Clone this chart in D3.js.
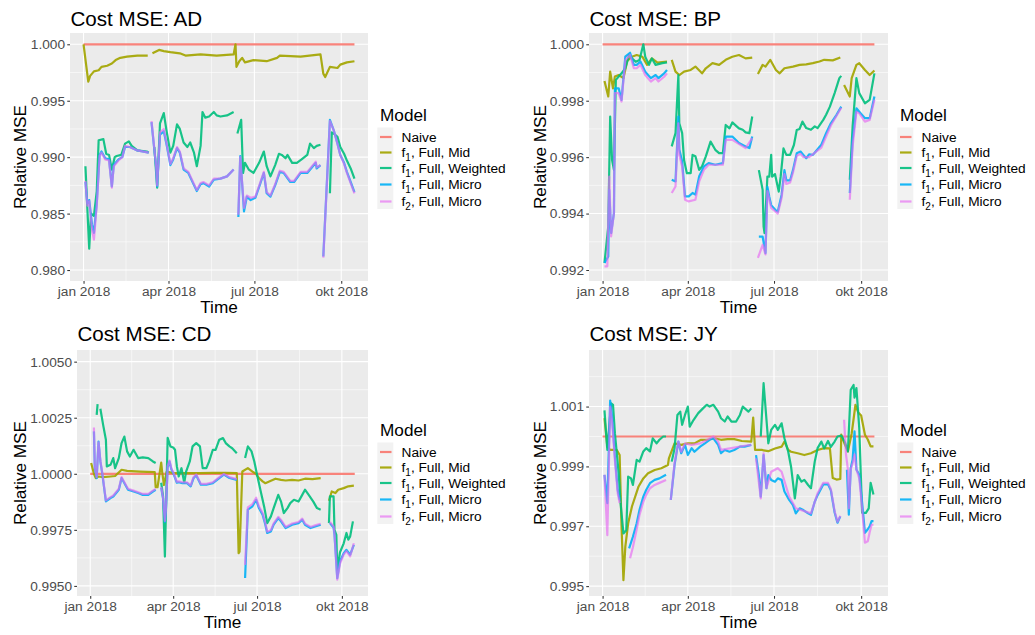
<!DOCTYPE html>
<html>
<head>
<meta charset="utf-8">
<script src="https://cdn.jsdelivr.net/npm/d3@7"></script>
<style>
  html, body { margin: 0; padding: 0; background: #ffffff; }
  svg text { font-family: "Liberation Sans", Arial, Helvetica, sans-serif; }
</style>
</head>
<body>
<svg id="chart" width="1035" height="635"></svg>
<script>
// ---- series and labels -------------------------------------------------
const modelNames = ["Naive", "f1, Full, Mid", "f1, Full, Weighted", "f1, Full, Micro", "f2, Full, Micro"];
const modelColors = ["#F8766D", "#A3A500", "#00BF7D", "#00B0F6", "#E76BF3"];
const modelAlpha = [0.9, 0.92, 0.9, 0.9, 0.66];
const legendTitle = "Model";
const xTitle = "Time";
const yTitle = "Relative MSE";

// x ticks as day offsets from 1 Jan 2018
const xTickDays = [0, 90, 181, 273];
const xTickLabels = ["jan 2018", "apr 2018", "jul 2018", "okt 2018"];
const xMinorDays = [45, 135.5, 227];
const dataFirstDay = 0, dataLastDay = 287;

// each series: [day offset from 1 Jan 2018, relative MSE]; null breaks the line
const naive = [[0, 1.0], [287, 1.0]];

// ---- AD ----
const adTicks = [0.980, 0.985, 0.990, 0.995, 1.000];
const adMinor = [0.9825, 0.9875, 0.9925, 0.9975];
const adMid = [[0,1.0000],[5,0.9967],[7,0.9972],[11,0.9976],[16,0.9977],[19,0.9980],[25,0.9981],[30,0.9983],[34,0.9986],[39,0.9988],[46,0.9989],[57,0.9990],[68,0.9990],[70,null],[73,0.9992],[80,0.9995],[85,0.9994],[92,0.9993],[102,0.9992],[108,0.9990],[124,0.9991],[141,0.9990],[159,0.9991],[161,1.0000],[162,0.9980],[165,0.9985],[168,0.9988],[171,0.9984],[180,0.9986],[194,0.9985],[205,0.9988],[208,0.9990],[230,0.9989],[251,0.9991],[254,0.9974],[256,0.9971],[261,0.9980],[269,0.9979],[272,0.9982],[279,0.9984],[287,0.9985]];
const adWeighted = [[2,0.9892],[4,0.9855],[6,0.9819],[8,0.9850],[11,0.9848],[14,0.9870],[16,0.9915],[21,0.9916],[24,0.9903],[27,0.9902],[30,0.9889],[33,0.9900],[35,0.9901],[40,0.9902],[44,0.9912],[48,0.9914],[51,0.9910],[57,0.9906],[67,0.9905],[69,0.9904],[71,null],[75,0.9909],[78,0.9873],[81,0.9930],[85,0.9939],[88,0.9923],[92,0.9904],[95,0.9910],[99,0.9929],[102,0.9925],[106,0.9913],[110,0.9909],[113,0.9913],[117,0.9904],[120,0.9892],[124,0.9910],[126,0.9940],[129,0.9935],[133,0.9936],[138,0.9940],[141,0.9937],[145,0.9936],[152,0.9937],[159,0.9940],[161,null],[163,0.9921],[167,0.9933],[169,0.9886],[171,0.9895],[175,0.9889],[180,0.9886],[186,0.9895],[191,0.9905],[194,0.9892],[198,0.9883],[203,0.9893],[207,0.9903],[210,0.9902],[214,0.9899],[216,0.9902],[221,0.9895],[226,0.9895],[231,0.9898],[237,0.9902],[240,0.9912],[244,0.9908],[247,0.9910],[251,0.9911],[253,null],[261,0.9868],[263,0.9922],[265,0.9921],[269,0.9918],[272,0.9909],[276,0.9903],[279,0.9897],[283,0.9890],[287,0.9881]];
const adMicro1 = [[2,0.9878],[4,0.9859],[6,0.9862],[9,0.9840],[11,0.9833],[14,0.9859],[17,0.9902],[19,0.9905],[23,0.9899],[27,0.9898],[30,0.9874],[32,0.9893],[37,0.9898],[41,0.9900],[44,0.9909],[49,0.9909],[57,0.9906],[69,0.9904],[71,null],[72,0.9931],[77,0.9890],[78,0.9874],[81,0.9920],[85,0.9923],[88,0.9911],[92,0.9893],[95,0.9898],[99,0.9908],[102,0.9904],[106,0.9889],[111,0.9886],[116,0.9877],[120,0.9870],[124,0.9876],[127,0.9877],[133,0.9874],[138,0.9880],[145,0.9881],[152,0.9883],[159,0.9889],[161,null],[164,0.9847],[166,0.9901],[170,0.9852],[173,0.9865],[177,0.9862],[182,0.9864],[187,0.9876],[191,0.9886],[194,0.9868],[198,0.9865],[203,0.9875],[208,0.9887],[212,0.9886],[219,0.9878],[223,0.9878],[230,0.9886],[237,0.9886],[246,0.9895],[247,0.9890],[251,0.9893],[253,null],[254,0.9812],[261,0.9933],[265,0.9924],[269,0.9912],[272,0.9902],[276,0.9895],[279,0.9887],[283,0.9878],[287,0.9869]];
const adMicro2 = [[2,0.9879],[4,0.9857],[6,0.9861],[9,0.9836],[11,0.9827],[14,0.9857],[17,0.9901],[19,0.9904],[23,0.9898],[27,0.9897],[30,0.9873],[32,0.9892],[37,0.9897],[41,0.9900],[44,0.9910],[49,0.9909],[57,0.9906],[69,0.9904],[71,null],[72,0.9932],[77,0.9891],[78,0.9875],[81,0.9922],[85,0.9925],[88,0.9912],[92,0.9894],[95,0.9899],[99,0.9909],[102,0.9905],[106,0.9890],[111,0.9887],[116,0.9878],[120,0.9871],[124,0.9877],[127,0.9878],[133,0.9875],[138,0.9881],[145,0.9881],[152,0.9883],[159,0.9889],[161,null],[164,0.9849],[166,0.9900],[170,0.9855],[173,0.9866],[177,0.9864],[182,0.9865],[187,0.9877],[191,0.9887],[194,0.9869],[198,0.9866],[203,0.9876],[208,0.9888],[212,0.9887],[219,0.9879],[223,0.9879],[230,0.9887],[237,0.9887],[246,0.9896],[247,0.9891],[251,0.9893],[253,null],[254,0.9811],[261,0.9932],[265,0.9924],[269,0.9912],[272,0.9902],[276,0.9894],[279,0.9886],[283,0.9877],[287,0.9868]];

// ---- BP ----
const bpTicks = [0.992, 0.994, 0.996, 0.998, 1.000];
const bpMinor = [0.993, 0.995, 0.997, 0.999];
const bpMid = [[2,0.99870],[6,0.99815],[8,0.99903],[11,0.99844],[13,0.99886],[17,0.99891],[22,0.99880],[26,0.99941],[31,0.99956],[36,0.99962],[42,0.99956],[47,0.99927],[52,0.99950],[58,0.99935],[68,0.99939],[70,null],[73,0.99945],[77,0.99903],[81,0.99891],[86,0.99903],[93,0.99909],[98,0.99921],[105,0.99897],[109,0.99915],[116,0.99933],[123,0.99927],[130,0.99945],[137,0.99956],[144,0.99962],[151,0.99950],[158,0.99953],[161,null],[164,0.99895],[169,0.99927],[172,0.99921],[177,0.99945],[183,0.99909],[187,0.99897],[192,0.99915],[201,0.99921],[208,0.99927],[215,0.99929],[222,0.99933],[229,0.99939],[234,0.99945],[243,0.99943],[251,0.99953],[253,null],[255,0.99856],[261,0.99815],[263,0.99880],[268,0.99927],[271,0.99933],[277,0.99909],[282,0.99891],[287,0.99907]];
const bpWeighted = [[2,0.99225],[6,0.99355],[8,0.99744],[10,0.99590],[12,0.99555],[14,0.99874],[17,0.99886],[20,0.99897],[24,0.99915],[28,0.99962],[31,0.99950],[35,0.99938],[39,0.99944],[43,1.00000],[45,0.99956],[49,0.99927],[52,0.99950],[56,0.99927],[63,0.99933],[68,0.99936],[70,null],[73,0.99638],[77,0.99685],[80,0.99891],[81,0.99720],[84,0.99685],[86,0.99590],[89,0.99543],[93,0.99543],[95,0.99608],[98,0.99603],[102,0.99555],[105,0.99567],[109,0.99603],[114,0.99655],[119,0.99626],[123,0.99614],[127,0.99614],[130,0.99714],[134,0.99702],[137,0.99723],[141,0.99711],[144,0.99702],[148,0.99697],[151,0.99688],[155,0.99685],[158,0.99744],[161,null],[165,0.99554],[169,0.99484],[170,0.99354],[171,0.99331],[174,0.99531],[176,0.99531],[178,0.99608],[179,0.99531],[182,0.99540],[186,0.99478],[188,0.99530],[191,0.99631],[194,0.99608],[198,0.99608],[202,0.99643],[205,0.99696],[208,0.99700],[211,0.99726],[215,0.99703],[220,0.99697],[224,0.99709],[227,0.99703],[233,0.99732],[236,0.99750],[240,0.99779],[245,0.99827],[250,0.99880],[252,0.99888],[253,null],[261,0.99520],[264,0.99709],[268,0.99880],[271,0.99827],[277,0.99791],[282,0.99803],[287,0.99897]];
const bpMicro1 = [[2,0.99225],[6,0.99248],[7,0.99484],[9,0.99331],[12,0.99402],[13,0.99844],[17,0.99844],[20,0.99803],[24,0.99956],[29,0.99970],[33,0.99927],[36,0.99927],[40,0.99939],[45,0.99903],[51,0.99880],[56,0.99891],[59,0.99880],[65,0.99897],[68,0.99909],[70,null],[73,0.99520],[77,0.99514],[80,0.99744],[81,0.99627],[84,0.99585],[87,0.99461],[91,0.99461],[95,0.99473],[98,0.99467],[102,0.99532],[107,0.99567],[112,0.99579],[119,0.99573],[127,0.99579],[130,0.99673],[137,0.99673],[144,0.99650],[151,0.99638],[155,0.99632],[158,0.99673],[161,null],[165,0.99318],[169,0.99318],[172,0.99260],[174,0.99495],[176,0.99460],[178,0.99430],[183,0.99411],[185,0.99407],[189,0.99466],[192,0.99554],[194,0.99518],[198,0.99518],[201,0.99554],[205,0.99614],[209,0.99620],[212,0.99608],[215,0.99596],[218,0.99610],[222,0.99608],[225,0.99620],[231,0.99644],[236,0.99685],[241,0.99720],[247,0.99750],[252,0.99779],[253,null],[261,0.99473],[264,0.99661],[268,0.99773],[271,0.99761],[277,0.99738],[282,0.99738],[287,0.99815]];
const bpMicro2 = [[2,0.99213],[5,0.99213],[7,0.99531],[9,0.99319],[12,0.99402],[13,0.99827],[17,0.99827],[20,0.99797],[24,0.99944],[29,0.99962],[33,0.99915],[36,0.99915],[40,0.99927],[45,0.99891],[51,0.99868],[56,0.99880],[59,0.99868],[65,0.99885],[68,0.99897],[70,null],[73,0.99473],[77,0.99496],[80,0.99720],[81,0.99608],[84,0.99567],[87,0.99449],[91,0.99443],[98,0.99449],[102,0.99514],[107,0.99555],[112,0.99573],[127,0.99573],[130,0.99661],[137,0.99661],[151,0.99632],[158,0.99667],[161,null],[164,0.99243],[169,0.99289],[172,0.99255],[174,0.99480],[178,0.99420],[185,0.99400],[189,0.99455],[192,0.99540],[194,0.99505],[198,0.99510],[201,0.99545],[205,0.99605],[209,0.99612],[212,0.99600],[218,0.99600],[231,0.99634],[241,0.99712],[252,0.99775],[253,null],[261,0.99449],[264,0.99638],[268,0.99761],[271,0.99755],[277,0.99726],[282,0.99732],[287,0.99803]];

// ---- CD ----
const cdTicks = [0.9950, 0.9975, 1.0000, 1.0025, 1.0050];
const cdMinor = [0.99625, 0.99875, 1.00125, 1.00375];
const cdMid = [[1,1.00048],[4,1.00000],[6,0.99981],[9,0.99988],[14,0.99985],[22,0.99988],[27,0.99990],[34,1.00018],[40,1.00013],[54,1.00010],[70,1.00007],[71,0.99940],[73,0.99940],[77,1.00050],[78,1.00010],[80,0.99950],[83,1.00010],[90,1.00003],[104,1.00003],[119,1.00003],[133,1.00004],[147,1.00004],[159,1.00003],[161,0.99646],[162,0.99653],[165,1.00010],[171,1.00025],[176,1.00010],[180,0.99999],[183,0.99981],[187,0.99966],[190,0.99958],[196,0.99969],[201,0.99978],[207,0.99973],[212,0.99970],[219,0.99973],[226,0.99970],[233,0.99978],[241,0.99976],[250,0.99981],[252,null],[259,0.99880],[262,0.99921],[266,0.99914],[269,0.99929],[275,0.99936],[280,0.99944],[286,0.99947]];
const cdWeighted = [[7,1.00263],[8,1.00311],[9,null],[11,1.00290],[14,1.00218],[17,1.00152],[18,1.00033],[22,1.00040],[25,1.00070],[27,1.00025],[31,1.00070],[34,1.00137],[37,1.00166],[40,1.00100],[43,1.00077],[47,1.00107],[52,1.00070],[57,1.00073],[63,1.00070],[68,1.00055],[71,1.00048],[73,null],[77,0.99960],[79,0.99900],[81,0.99631],[84,1.00160],[87,1.00122],[90,1.00117],[92,1.00107],[94,1.00033],[96,0.99988],[99,1.00025],[102,0.99960],[104,1.00010],[108,1.00055],[111,1.00122],[115,1.00137],[119,1.00122],[122,1.00025],[126,1.00025],[129,1.00055],[133,1.00107],[136,1.00107],[140,1.00152],[144,1.00159],[147,1.00137],[151,1.00122],[154,1.00114],[159,1.00092],[161,null],[168,1.00070],[171,1.00122],[175,1.00100],[178,1.00055],[181,0.99996],[185,0.99921],[189,0.99847],[192,0.99780],[196,0.99810],[199,0.99847],[204,0.99906],[207,0.99876],[210,0.99825],[214,0.99847],[217,0.99869],[221,0.99884],[226,0.99876],[230,0.99906],[233,0.99929],[237,0.99906],[242,0.99876],[246,0.99847],[250,0.99840],[252,null],[259,0.99780],[260,0.99899],[264,0.99899],[265,0.99750],[267,0.99728],[268,0.99572],[271,0.99650],[275,0.99690],[278,0.99736],[280,0.99706],[282,0.99721],[285,0.99788]];
const cdMicro1 = [[4,1.00189],[5,1.00025],[7,0.99981],[9,1.00144],[11,1.00055],[13,1.00003],[17,0.99877],[22,0.99892],[25,0.99899],[31,0.99929],[34,0.99981],[38,0.99951],[41,0.99929],[47,0.99921],[52,0.99914],[57,0.99906],[63,0.99906],[68,0.99921],[71,0.99929],[73,null],[77,0.99937],[79,0.99890],[81,0.99785],[82,0.99830],[84,1.00030],[86,1.00055],[88,1.00020],[90,1.00004],[94,0.99960],[96,0.99962],[100,0.99958],[105,0.99958],[109,0.99944],[112,0.99980],[115,0.99993],[120,0.99951],[126,0.99951],[133,0.99958],[140,0.99981],[145,0.99996],[151,0.99981],[159,0.99973],[161,null],[168,0.99535],[171,0.99840],[176,0.99855],[180,0.99884],[183,0.99847],[187,0.99817],[190,0.99773],[192,0.99736],[196,0.99743],[199,0.99773],[204,0.99802],[207,0.99788],[212,0.99758],[219,0.99773],[226,0.99780],[230,0.99795],[233,0.99773],[239,0.99758],[244,0.99765],[250,0.99773],[252,null],[260,0.99780],[264,0.99760],[265,0.99728],[268,0.99535],[271,0.99610],[275,0.99646],[278,0.99661],[282,0.99639],[286,0.99683]];
const cdMicro2 = [[4,1.00206],[5,1.00030],[7,0.99985],[9,1.00140],[11,1.00058],[13,1.00006],[17,0.99881],[22,0.99896],[25,0.99903],[31,0.99933],[34,0.99985],[38,0.99955],[41,0.99933],[47,0.99925],[52,0.99918],[57,0.99910],[63,0.99910],[68,0.99925],[71,0.99932],[73,null],[77,0.99941],[79,0.99894],[81,0.99790],[82,0.99834],[84,1.00034],[86,1.00059],[88,1.00024],[90,1.00008],[94,0.99964],[96,0.99966],[100,0.99962],[105,0.99962],[109,0.99948],[112,0.99984],[115,0.99997],[120,0.99955],[126,0.99955],[133,0.99962],[140,0.99985],[145,0.99999],[151,0.99985],[159,0.99976],[161,null],[168,0.99594],[171,0.99850],[176,0.99865],[180,0.99893],[183,0.99855],[187,0.99825],[190,0.99780],[192,0.99742],[196,0.99749],[199,0.99779],[204,0.99808],[207,0.99794],[212,0.99763],[219,0.99778],[226,0.99785],[230,0.99800],[233,0.99778],[239,0.99763],[244,0.99770],[250,0.99777],[252,null],[260,0.99785],[264,0.99765],[265,0.99733],[268,0.99528],[271,0.99600],[275,0.99640],[278,0.99655],[282,0.99632],[286,0.99690]];

// ---- JY ----
const jyTicks = [0.995, 0.997, 0.999, 1.001];
const jyMinor = [0.996, 0.998, 1.000, 1.002];
const jyMid = [[2,1.00061],[5,0.99966],[8,0.99955],[15,0.99955],[18,0.99938],[20,0.99700],[22,0.99520],[24,0.99632],[27,0.99710],[31,0.99766],[38,0.99833],[43,0.99860],[48,0.99877],[55,0.99888],[62,0.99894],[69,0.99905],[70,0.99927],[76,0.99977],[83,0.99972],[90,0.99977],[97,0.99977],[104,0.99989],[111,0.99989],[118,0.99994],[125,0.99989],[132,0.99991],[139,0.99991],[147,0.99985],[157,0.99983],[159,1.00063],[161,0.99955],[168,0.99955],[175,0.99951],[182,0.99960],[189,0.99966],[192,0.99983],[196,0.99955],[199,0.99949],[206,0.99944],[213,0.99938],[220,0.99944],[227,0.99955],[234,0.99961],[240,0.99960],[243,0.99861],[247,0.99856],[251,0.99858],[252,1.00006],[255,0.99980],[259,0.99950],[263,1.00010],[267,1.00106],[270,1.00080],[273,1.00070],[277,1.00006],[280,0.99990],[283,0.99967],[286,0.99967]];
const jyWeighted = [[2,1.00087],[5,0.99955],[9,1.00111],[11,1.00106],[13,1.00011],[17,0.99877],[19,0.99777],[22,0.99676],[25,0.99687],[27,0.99866],[30,0.99860],[32,0.99838],[36,0.99922],[39,0.99916],[43,0.99950],[46,0.99961],[50,0.99950],[53,0.99994],[57,0.99977],[60,0.99989],[64,1.00000],[67,1.00000],[70,null],[73,0.99916],[76,0.99961],[79,1.00072],[82,1.00083],[84,1.00039],[87,1.00072],[90,1.00100],[92,1.00033],[96,1.00055],[101,1.00078],[106,1.00094],[110,1.00106],[113,1.00100],[117,1.00106],[122,1.00083],[125,1.00061],[129,1.00050],[132,1.00067],[136,1.00050],[141,1.00050],[145,1.00072],[148,1.00100],[154,1.00083],[157,1.00094],[159,null],[167,1.00000],[170,1.00178],[175,0.99977],[178,1.00022],[182,1.00039],[185,1.00022],[189,1.00044],[192,0.99994],[196,0.99949],[199,0.99899],[203,0.99793],[206,0.99871],[210,0.99849],[213,0.99855],[217,0.99838],[220,0.99827],[224,0.99916],[227,0.99961],[231,0.99983],[234,0.99960],[238,0.99985],[241,0.99965],[245,0.99983],[248,1.00000],[252,1.00003],[256,0.99980],[259,0.99950],[262,1.00156],[265,1.00172],[266,1.00130],[268,1.00162],[271,1.00028],[274,0.99745],[278,0.99745],[281,0.99760],[283,0.99845],[286,0.99806]];
const jyMicro1 = [[2,0.99872],[5,0.99777],[8,1.00120],[10,1.00067],[13,0.99933],[16,0.99821],[18,0.99788],[19,null],[28,0.99626],[32,0.99665],[36,0.99710],[39,0.99755],[43,0.99799],[46,0.99821],[50,0.99844],[55,0.99855],[60,0.99860],[67,0.99872],[70,null],[72,0.99788],[76,0.99905],[80,0.99983],[83,0.99944],[87,0.99972],[90,0.99938],[94,0.99961],[97,0.99949],[103,0.99966],[108,0.99977],[113,0.99989],[117,0.99994],[122,0.99972],[125,0.99944],[129,0.99955],[134,0.99949],[139,0.99955],[145,0.99966],[150,0.99966],[157,0.99972],[159,null],[162,0.99938],[165,0.99871],[167,0.99799],[170,0.99938],[173,0.99827],[175,0.99871],[178,0.99855],[182,0.99849],[185,0.99860],[189,0.99855],[192,0.99816],[197,0.99788],[201,0.99771],[204,0.99743],[208,0.99760],[212,0.99754],[217,0.99743],[220,0.99738],[224,0.99782],[227,0.99804],[233,0.99840],[238,0.99840],[241,0.99820],[245,0.99746],[248,0.99712],[251,0.99733],[252,null],[258,0.99889],[260,0.99739],[262,0.99895],[264,0.99922],[266,1.00017],[268,0.99890],[271,0.99872],[274,0.99780],[277,0.99678],[280,0.99690],[282,0.99700],[284,0.99717],[286,0.99717]];
const jyMicro2 = [[2,0.99872],[5,0.99670],[8,1.00100],[10,1.00050],[13,0.99920],[16,0.99810],[18,0.99778],[19,null],[29,0.99593],[32,0.99630],[36,0.99690],[39,0.99738],[43,0.99782],[46,0.99805],[50,0.99827],[55,0.99838],[60,0.99845],[67,0.99855],[70,null],[72,0.99788],[76,0.99911],[80,0.99983],[83,0.99949],[87,0.99977],[94,0.99972],[103,0.99977],[108,0.99985],[117,1.00000],[122,0.99983],[125,0.99955],[139,0.99963],[150,0.99969],[157,0.99972],[159,null],[162,0.99927],[167,0.99793],[170,0.99944],[173,0.99827],[178,0.99882],[185,0.99894],[189,0.99882],[197,0.99799],[204,0.99760],[220,0.99743],[227,0.99810],[233,0.99845],[238,0.99845],[241,0.99825],[245,0.99750],[248,0.99715],[251,0.99735],[252,null],[255,1.00056],[257,0.99940],[259,0.99890],[260,0.99760],[262,0.99890],[264,0.99910],[266,0.99940],[268,0.99890],[271,0.99860],[274,0.99760],[277,0.99645],[280,0.99650],[282,0.99680],[284,0.99705],[286,0.99705]];

// ---- layout ------------------------------------------------------------
const FONT_TITLE = 20.6, FONT_AXIS_TITLE = 17.2, FONT_TICK = 13.7, FONT_LEGEND = 13.7;
const panels = [
  { title: "Cost MSE: AD", series: [naive, adMid, adWeighted, adMicro1, adMicro2],
    ticks: adTicks, minor: adMinor, fmt: ".3f", yDomain: [0.97903, 1.00100],
    box: { x0: 70, x1: 368, y0: 33, y1: 281 }, dx: 0, dy: 0 },
  { title: "Cost MSE: BP", series: [naive, bpMid, bpWeighted, bpMicro1, bpMicro2],
    ticks: bpTicks, minor: bpMinor, fmt: ".3f", yDomain: [0.99161, 1.00040],
    box: { x0: 589, x1: 888, y0: 33, y1: 281 }, dx: 520, dy: 0 },
  { title: "Cost MSE: CD", series: [naive, cdMid, cdWeighted, cdMicro1, cdMicro2],
    ticks: cdTicks, minor: cdMinor, fmt: ".4f", yDomain: [0.99455, 1.00552],
    box: { x0: 77, x1: 368, y0: 350, y1: 596 }, dx: 0, dy: 315 },
  { title: "Cost MSE: JY", series: [naive, jyMid, jyWeighted, jyMicro1, jyMicro2],
    ticks: jyTicks, minor: jyMinor, fmt: ".3f", yDomain: [0.99467, 1.00289],
    box: { x0: 589, x1: 888, y0: 350, y1: 596 }, dx: 520, dy: 315 }
];

const svg = d3.select("#chart");
const base = Date.UTC(2018, 0, 1);
const toDate = d => new Date(base + d * 864e5);
const span = dataLastDay - dataFirstDay;
const pad = span * 0.05;

panels.forEach((p, pi) => {
  const b = p.box;
  const x = d3.scaleUtc()
    .domain([toDate(dataFirstDay - pad), toDate(dataLastDay + pad)])
    .range([b.x0, b.x1]);
  const y = d3.scaleLinear().domain(p.yDomain).range([b.y1, b.y0]);
  const g = svg.append("g");

  // panel background and grid
  g.append("rect").attr("x", b.x0).attr("y", b.y0)
    .attr("width", b.x1 - b.x0).attr("height", b.y1 - b.y0).attr("fill", "#EBEBEB");
  const grid = g.append("g").attr("stroke", "#FFFFFF").attr("fill", "none");
  p.minor.forEach(v => grid.append("line")
    .attr("x1", b.x0).attr("x2", b.x1).attr("y1", y(v)).attr("y2", y(v)).attr("stroke-width", 0.55));
  xMinorDays.forEach(d => grid.append("line")
    .attr("y1", b.y0).attr("y2", b.y1).attr("x1", x(toDate(d))).attr("x2", x(toDate(d))).attr("stroke-width", 0.55));
  p.ticks.forEach(v => grid.append("line")
    .attr("x1", b.x0).attr("x2", b.x1).attr("y1", y(v)).attr("y2", y(v)).attr("stroke-width", 1.1));
  xTickDays.forEach(d => grid.append("line")
    .attr("y1", b.y0).attr("y2", b.y1).attr("x1", x(toDate(d))).attr("x2", x(toDate(d))).attr("stroke-width", 1.1));

  // data lines
  const clipId = "clip" + pi;
  svg.append("clipPath").attr("id", clipId).append("rect")
    .attr("x", b.x0).attr("y", b.y0).attr("width", b.x1 - b.x0).attr("height", b.y1 - b.y0);
  const line = d3.line()
    .defined(d => d[1] !== null)
    .x(d => x(toDate(d[0])))
    .y(d => y(d[1]));
  const lines = g.append("g").attr("clip-path", `url(#${clipId})`);
  p.series.forEach((s, si) => {
    lines.append("path").datum(s)
      .attr("d", line)
      .attr("fill", "none")
      .attr("stroke", modelColors[si])
      .attr("stroke-opacity", modelAlpha[si])
      .attr("stroke-width", 2.2)
      .attr("stroke-linejoin", "round")
      .attr("stroke-linecap", "butt");
  });

  // y axis
  const yAxis = d3.axisLeft(y).tickValues(p.ticks).tickFormat(d3.format(p.fmt))
    .tickSize(2.75).tickPadding(2.2);
  const ya = g.append("g").attr("transform", `translate(${b.x0},0)`).call(yAxis);
  ya.select(".domain").remove();
  ya.selectAll(".tick line").attr("stroke", "#333333").attr("stroke-width", 1.05);
  ya.selectAll(".tick text").attr("fill", "#4D4D4D").attr("font-size", FONT_TICK)
    .attr("font-family", "Liberation Sans, Arial, sans-serif");

  // x axis
  const xAxis = d3.axisBottom(x).tickValues(xTickDays.map(toDate))
    .tickFormat((d, i) => xTickLabels[i]).tickSize(2.75).tickPadding(2.2);
  const xa = g.append("g").attr("transform", `translate(0,${b.y1})`).call(xAxis);
  xa.select(".domain").remove();
  xa.selectAll(".tick line").attr("stroke", "#333333").attr("stroke-width", 1.05);
  xa.selectAll(".tick text").attr("fill", "#4D4D4D").attr("font-size", FONT_TICK)
    .attr("font-family", "Liberation Sans, Arial, sans-serif");

  // titles
  g.append("text").attr("x", b.x0 + 0.5).attr("y", p.dy + 26)
    .attr("font-size", FONT_TITLE).attr("fill", "#000").text(p.title);
  g.append("text").attr("x", (b.x0 + b.x1) / 2).attr("y", b.y1 + 32)
    .attr("text-anchor", "middle").attr("font-size", FONT_AXIS_TITLE).attr("fill", "#000").text(xTitle);
  g.append("text")
    .attr("transform", `translate(${p.dx + 26},${(b.y0 + b.y1) / 2}) rotate(-90)`)
    .attr("text-anchor", "middle").attr("font-size", FONT_AXIS_TITLE).attr("fill", "#000").text(yTitle);

  // legend
  const lg = g.append("g").attr("transform", `translate(${p.dx},${p.dy})`);
  lg.append("text").attr("x", 380).attr("y", 121).attr("font-size", FONT_AXIS_TITLE)
    .attr("fill", "#000").text(legendTitle);
  const rowY = [137, 152.5, 168, 184.5, 201.5];
  lg.append("rect").attr("x", 377.3).attr("y", 127.5).attr("width", 16).attr("height", 81.5)
    .attr("fill", "#F2F2F2");
  modelNames.forEach((name, i) => {
    lg.append("line").attr("x1", 380).attr("x2", 391.5).attr("y1", rowY[i]).attr("y2", rowY[i])
      .attr("stroke", modelColors[i]).attr("stroke-opacity", modelAlpha[i]).attr("stroke-width", 2.2);
    const t = lg.append("text").attr("x", 401.5).attr("y", rowY[i] + 4.8)
      .attr("font-size", FONT_LEGEND).attr("fill", "#000");
    const m = name.match(/^f(\d)(.*)$/);
    if (m) {
      t.append("tspan").text("f");
      t.append("tspan").attr("font-size", 10).attr("dy", 4).text(m[1]);
      t.append("tspan").attr("dy", -4).text(m[2]);
    } else {
      t.text(name);
    }
  });
});
</script>
</body>
</html>
